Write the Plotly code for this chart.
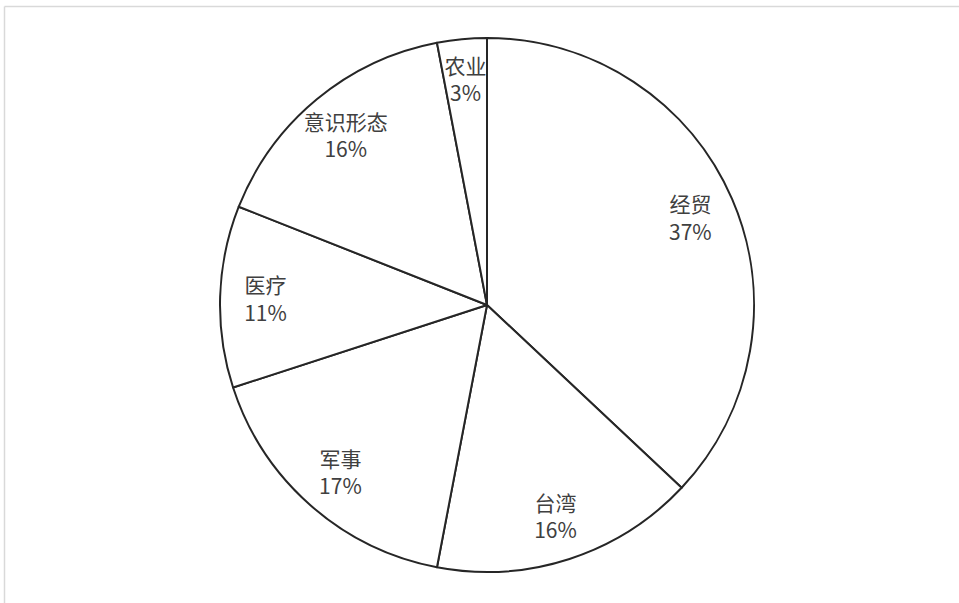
import plotly.graph_objects as go

categories = ["经贸", "台湾", "军事", "医疗", "意识形态", "农业"]
values = [37, 16, 17, 11, 16, 3]

W, H = 959, 603
cx, cy, r = 487, 305, 267


def domain(rad):
    return dict(x=[(cx - rad) / W, (cx + rad) / W], y=[(H - cy - rad) / H, (H - cy + rad) / H])


common = dict(labels=categories, values=values, sort=False, direction="clockwise",
              rotation=0, hoverinfo="skip", showlegend=False)
clear = dict(colors=["rgba(0,0,0,0)"] * len(values), line=dict(width=0))
font = dict(family="Noto Sans CJK SC", size=21, color="#404040")
tmpl = "%{label}<br>%{percent:.0%}"
small = [v / sum(values) < 0.05 for v in values]

# Slices with outlines
fig = go.Figure(go.Pie(
    **common, domain=domain(r),
    marker=dict(colors=["white"] * len(values), line=dict(color="#262626", width=2)),
    textinfo="none",
))

# Transparent ring carrying the labels nearer the rim
fig.add_trace(go.Pie(
    **common, domain=domain(r), hole=0.66, marker=clear,
    texttemplate=["" if s else tmpl for s in small],
    textposition="inside", insidetextorientation="horizontal", textfont=font,
))

# Narrow slice label, kept a little further from the rim
fig.add_trace(go.Pie(
    **common, domain=domain(r - 18), hole=0.6, marker=clear,
    texttemplate=[tmpl if s else "" for s in small],
    textposition="inside", insidetextorientation="horizontal", textfont=font,
))

fig.update_layout(
    width=W, height=H,
    margin=dict(l=0, r=0, t=0, b=0),
    paper_bgcolor="white",
    plot_bgcolor="white",
    uniformtext=dict(minsize=21, mode="show"),
    shapes=[
        dict(type="line", xref="paper", yref="paper", x0=4.5 / W, x1=1, y0=1 - 6.5 / H, y1=1 - 6.5 / H,
             line=dict(color="#d9d9d9", width=1.5)),
        dict(type="line", xref="paper", yref="paper", x0=4.5 / W, x1=4.5 / W, y0=0, y1=1 - 6.5 / H,
             line=dict(color="#d9d9d9", width=1.5)),
    ],
)

fig.write_html("out.html", config={"displayModeBar": False},
               post_script="document.body.style.margin='0';")
